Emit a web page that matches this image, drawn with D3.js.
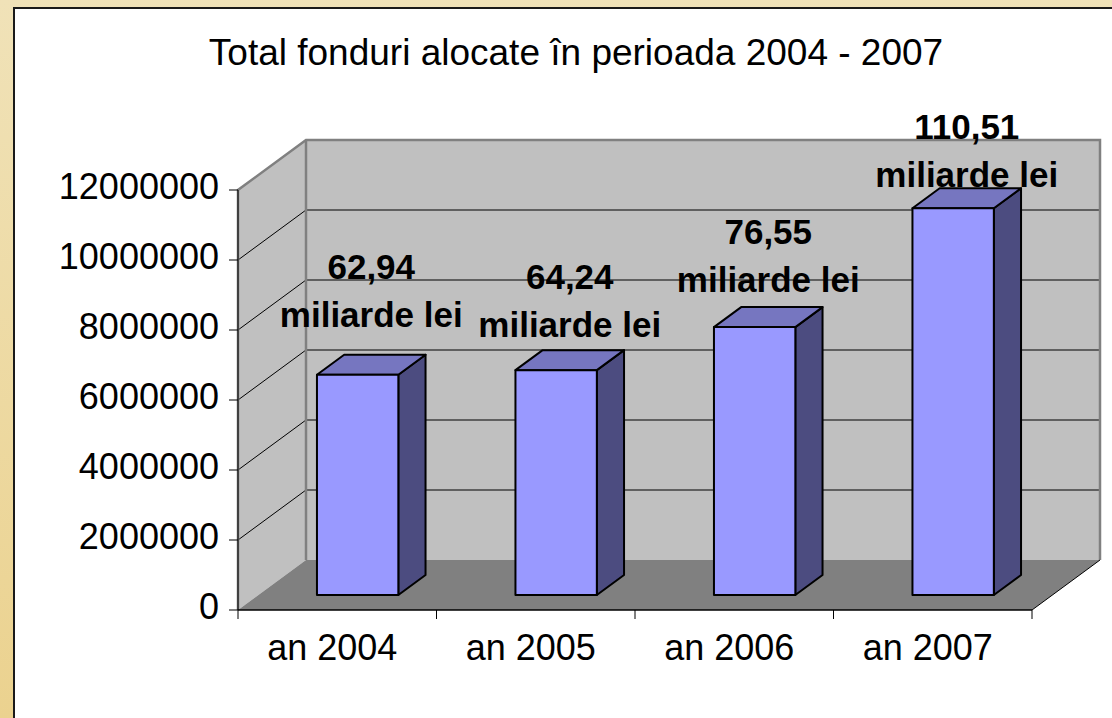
<!DOCTYPE html>
<html>
<head>
<meta charset="utf-8">
<script src="https://cdn.jsdelivr.net/npm/d3@7/dist/d3.min.js"></script>
<style>
  html, body { margin: 0; padding: 0; background: #ecd89e; }
  svg { display: block; }
  text { font-family: "Liberation Sans", Arial, sans-serif; }
</style>
</head>
<body>
<svg id="chart" width="1112" height="718"></svg>
<script>
// Funding totals per year (lei)
const categories = ["an 2004", "an 2005", "an 2006", "an 2007"];
const values = [6294000, 6424000, 7655000, 11051000];
const valueLabels = ["62,94", "64,24", "76,55", "110,51"];
const unitLabel = "miliarde lei";
const yTicks = [0, 2000000, 4000000, 6000000, 8000000, 10000000, 12000000];
const titleText = "Total fonduri alocate în perioada 2004 - 2007";

const svg = d3.select("#chart");
const W = 1112, H = 718;

// page background + white panel
const defs = svg.append("defs");
const bg = defs.append("linearGradient").attr("id", "bg")
  .attr("x1", 0).attr("y1", 0).attr("x2", 0).attr("y2", 1);
bg.append("stop").attr("offset", "0%").attr("stop-color", "#f0e2b8");
bg.append("stop").attr("offset", "100%").attr("stop-color", "#ebd28f");
svg.append("rect").attr("width", W).attr("height", H).attr("fill", "url(#bg)");
svg.append("rect").attr("x", 14).attr("y", 8).attr("width", W).attr("height", H)
  .attr("fill", "#ffffff").attr("stroke", "#1a1a1a").attr("stroke-width", 2);

// plot geometry: front plane and depth vector
const x0 = 238, x1 = 1032;
const DX = 68, DY = -50;
const y = d3.scaleLinear().domain([0, 12000000]).range([610, 190]);
const xCat = d3.scaleBand().domain(categories).range([x0, x1]).padding(0);
const xBar = d3.scaleBand().domain(categories).range([x0, x1])
  .paddingInner(0.59).paddingOuter(0.295);
const zFront = 0.3, zBack = 0.7;
const P = (px, py, z) => [px + z * DX, py + z * DY];
const poly = pts => "M" + pts.map(p => p.join(",")).join("L") + "Z";

const yMin = y(0), yMax = y(12000000);

// walls and floor
const g = svg.append("g");
g.append("path") // back wall
  .attr("d", poly([P(x0, yMax, 1), P(x1, yMax, 1), P(x1, yMin, 1), P(x0, yMin, 1)]))
  .attr("fill", "#c0c0c0");
g.append("path") // side wall
  .attr("d", poly([[x0, yMin], [x0, yMax], P(x0, yMax, 1), P(x0, yMin, 1)]))
  .attr("fill", "#c0c0c0");
g.append("path") // floor
  .attr("d", poly([[x0, yMin], [x1, yMin], P(x1, yMin, 1), P(x0, yMin, 1)]))
  .attr("fill", "#808080");

// gridlines on both walls
const grid = yTicks.filter(v => v > 0 && v < 12000000);
g.selectAll(".gb").data(grid).join("line")
  .attr("x1", d => P(x0, y(d), 1)[0]).attr("y1", d => P(x0, y(d), 1)[1])
  .attr("x2", d => P(x1, y(d), 1)[0]).attr("y2", d => P(x1, y(d), 1)[1])
  .attr("stroke", "#000").attr("stroke-width", 1);
g.selectAll(".gs").data(grid).join("line")
  .attr("x1", x0).attr("y1", d => y(d))
  .attr("x2", d => P(x0, y(d), 1)[0]).attr("y2", d => P(x0, y(d), 1)[1])
  .attr("stroke", "#000").attr("stroke-width", 1);

// wall edges
const edge = "#808080";
g.append("path")
  .attr("d", "M" + [[x0, yMin], [x0, yMax], P(x0, yMax, 1), P(x1, yMax, 1), P(x1, yMin, 1)].map(p => p.join(",")).join("L"))
  .attr("fill", "none").attr("stroke", edge).attr("stroke-width", 2.5);
g.append("line")
  .attr("x1", P(x0, yMax, 1)[0]).attr("y1", P(x0, yMax, 1)[1])
  .attr("x2", P(x0, yMin, 1)[0]).attr("y2", P(x0, yMin, 1)[1])
  .attr("stroke", edge).attr("stroke-width", 2.5);
g.append("line") // floor right edge
  .attr("x1", x1).attr("y1", yMin)
  .attr("x2", P(x1, yMin, 1)[0]).attr("y2", P(x1, yMin, 1)[1])
  .attr("stroke", "#000").attr("stroke-width", 1);

// bars
const bars = g.selectAll(".bar").data(categories.map((c, i) => ({ c, v: values[i], i })))
  .join("g").attr("class", "bar");
const bw = xBar.bandwidth();
bars.each(function (d) {
  const gb = d3.select(this);
  const xl = xBar(d.c), xr = xl + bw;
  const yt = y(d.v), yb = y(0);
  const fTL = P(xl, yt, zFront), fTR = P(xr, yt, zFront), fBR = P(xr, yb, zFront), fBL = P(xl, yb, zFront);
  const bTL = P(xl, yt, zBack), bTR = P(xr, yt, zBack), bBR = P(xr, yb, zBack);
  gb.append("path").attr("d", poly([fTR, bTR, bBR, fBR]))
    .attr("fill", "#4c4c80").attr("stroke", "#000").attr("stroke-width", 2).attr("stroke-linejoin", "round");
  gb.append("path").attr("d", poly([fTL, bTL, bTR, fTR]))
    .attr("fill", "#7676c0").attr("stroke", "#000").attr("stroke-width", 2).attr("stroke-linejoin", "round");
  gb.append("path").attr("d", poly([fTL, fTR, fBR, fBL]))
    .attr("fill", "#9999ff").attr("stroke", "#000").attr("stroke-width", 2).attr("stroke-linejoin", "round");
});

// axes
const axes = svg.append("g");
axes.append("line").attr("x1", x0).attr("y1", yMin).attr("x2", x1).attr("y2", yMin)
  .attr("stroke", "#000").attr("stroke-width", 1.5);
axes.append("line").attr("x1", x0).attr("y1", yMin).attr("x2", x0).attr("y2", yMax)
  .attr("stroke", "#000").attr("stroke-width", 1);
axes.selectAll(".yt").data(yTicks).join("line")
  .attr("x1", x0 - 9).attr("x2", x0).attr("y1", d => y(d)).attr("y2", d => y(d))
  .attr("stroke", "#000").attr("stroke-width", 1);
axes.selectAll(".yl").data(yTicks).join("text")
  .attr("x", 219).attr("y", d => y(d) + 9)
  .attr("text-anchor", "end").attr("font-size", 36).attr("fill", "#000")
  .text(d => String(d));
const catEdges = categories.map(c => xCat(c)).concat([x1]);
axes.selectAll(".xt").data(catEdges).join("line")
  .attr("x1", d => d).attr("x2", d => d).attr("y1", yMin).attr("y2", yMin + 9)
  .attr("stroke", "#000").attr("stroke-width", 1);
axes.selectAll(".xl").data(categories).join("text")
  .attr("x", d => xCat(d) + xCat.bandwidth() / 2 - 5).attr("y", 660)
  .attr("text-anchor", "middle").attr("font-size", 36).attr("fill", "#000")
  .text(d => d);

// value labels above bars (lift above the bar's back top edge)
const labelLift = [28, 13, 15, 1];
const lab = svg.append("g");
categories.forEach((c, i) => {
  const cx = xBar(c) + bw / 2 + zFront * DX + (zBack - zFront) * DX / 2;
  const backTop = P(0, y(values[i]), zBack)[1];
  const base2 = backTop - labelLift[i];
  const t = lab.append("text").attr("text-anchor", "middle")
    .attr("font-size", 35).attr("font-weight", "bold").attr("fill", "#000");
  t.append("tspan").attr("x", cx).attr("y", base2 - 48).text(valueLabels[i]);
  t.append("tspan").attr("x", cx).attr("y", base2).text(unitLabel);
});

// title
svg.append("text").attr("x", 576).attr("y", 65).attr("text-anchor", "middle")
  .attr("font-size", 37).attr("fill", "#000").text(titleText);
</script>
</body>
</html>
